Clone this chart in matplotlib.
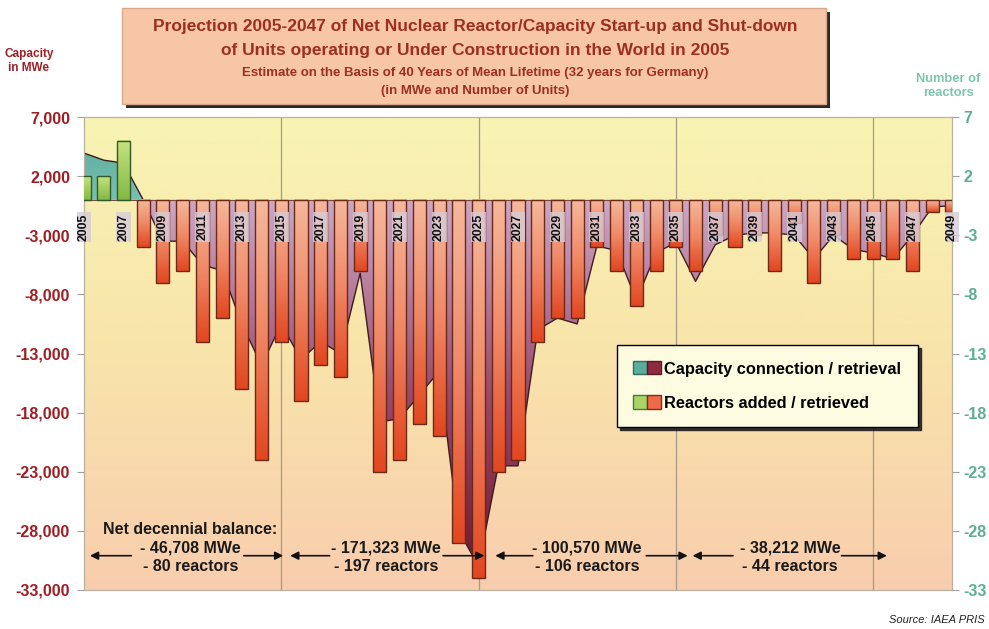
import numpy as np
import matplotlib
matplotlib.use('Agg')
import matplotlib.pyplot as plt
from matplotlib.colors import LinearSegmentedColormap
from matplotlib.patches import Rectangle, Patch
from matplotlib.path import Path
from matplotlib.legend_handler import HandlerTuple

plt.rcParams['font.family'] = ['Liberation Sans', 'DejaVu Sans']
plt.rcParams['axes.unicode_minus'] = False

# data (2005..2049)
years = np.arange(2005, 2050)
capacity_mwe = [3950, 3350, 3100, 0, -3500, -3500, -5500, -6000, -10500, -14000,
                -10500, -13500, -12000, -13000, -6200, -18800, -18500, -16500, -14500, -28000,
                -31000, -22500, -22500, -11000, -10000, -10500, -3900, -4300, -8500, -4500,
                -3600, -6900, -3800, -3000, -2800, -2800, -3000, -5000, -3000, -4200,
                -4500, -5000, -3000, -600, -500]
reactors = [2, 2, 5, -4, -7, -6, -12, -10, -16, -22,
            -12, -17, -14, -15, -6, -23, -22, -19, -20, -29,
            -32, -23, -22, -12, -10, -10, -4, -6, -9, -6,
            -4, -6, -3, -4, -3, -6, -2, -7, -3, -5,
            -5, -5, -6, -1, -1]
year_labels = years[::2]
left_ticks = np.arange(-33000, 7001, 5000)
right_ticks = np.arange(-33, 8, 5)
decade_lines = [2015, 2025, 2035, 2045]
decade_mwe = ['- 46,708 MWe', '- 171,323 MWe', '- 100,570 MWe', '- 38,212 MWe']
decade_units = ['- 80 reactors', '- 197 reactors', '- 106 reactors', '- 44 reactors']

# layout of the decade arrows (in years)
decade_centers = [2010.4, 2020.3, 2030.5, 2040.8]
arrow_spans = [(2005.3, 2007.4, 2013.1, 2015.1), (2015.45, 2017.45, 2023.2, 2025.3),
               (2025.85, 2027.75, 2033.5, 2035.6), (2035.85, 2037.9, 2043.4, 2045.7)]

W, H = 989, 629
fig = plt.figure(figsize=(W / 100, H / 100), dpi=100)
ax = fig.add_axes([84 / W, 1 - 590 / H, 868 / W, 473 / H])

ramp = np.linspace(0, 1, 256).reshape(-1, 1)


def gradient(axis, colors, extent, zorder, clip=None, transform=None):
    cmap = LinearSegmentedColormap.from_list('g', colors)
    img = axis.imshow(ramp, extent=extent, origin='lower', cmap=cmap,
                      aspect='auto', zorder=zorder, interpolation='bilinear')
    if clip is not None:
        if transform is None:
            img.set_clip_path(clip)
        else:
            img.set_clip_path(clip, transform)
        img.set_clip_box(axis.bbox)
    return img


# plot background
gradient(ax, ['#F9CDAE', '#F8E4AA', '#F8F4B4'], [2005, 2049, -33000, 7000], 0)
for gx in decade_lines:
    ax.axvline(gx, color='#A89A84', lw=0.9, zorder=1)

# capacity area
cap = np.array(capacity_mwe, dtype=float)
pos = ax.fill_between(years, cap, 0, where=cap >= 0, interpolate=True,
                      facecolor='none', edgecolor='none', zorder=2)
neg = ax.fill_between(years, cap, 0, where=cap <= 0, interpolate=True,
                      facecolor='none', edgecolor='none', zorder=2)
gradient(ax, ['#7ABFB0', '#52A896'], [2005, 2049, 0, 7000], 2,
         Path.make_compound_path(*pos.get_paths()), ax.transData)
gradient(ax, ['#6A1428', '#9A4A6C', '#CDA8C4'], [2005, 2049, -33000, 0], 2,
         Path.make_compound_path(*neg.get_paths()), ax.transData)
ax.plot(years, cap, color='#3E1A22', lw=1.0, zorder=3)

ax.set_xlim(2005, 2049)
ax.set_ylim(-33000, 7000)
ax.set_xticks([])
ax.set_yticks(left_ticks)
ax.set_yticklabels(['{:,}'.format(v) for v in left_ticks])
ax.tick_params(axis='y', labelcolor='#9E1F24', labelsize=11.5, length=5,
               color='#A0A0A0', pad=5)
for lab in ax.get_yticklabels():
    lab.set_fontweight('bold')
for s in ax.spines.values():
    s.set_color('#B8B0A0')

# reactor bars on the right axis
ax2 = ax.twinx()
bars = ax2.bar(years, reactors, width=0.66, facecolor='none', lw=1.0, zorder=4)
for b, v in zip(bars, reactors):
    x0, w = b.get_x(), b.get_width()
    if v >= 0:
        b.set_edgecolor('#2F5A2A')
        cols = ['#82B844', '#C8E27E']
    else:
        b.set_edgecolor('#6A2A1A')
        cols = ['#E2461F', '#F08866', '#F6B89C']
    gradient(ax2, cols, [x0, x0 + w, min(0, v), max(0, v)], 3.5, b)

ax2.axhline(0, color='#7A4A3A', lw=0.8, zorder=3.8)
ax2.set_xlim(2005, 2049)
ax2.set_ylim(-33, 7)
ax2.set_xticks([])
ax2.set_yticks(right_ticks)
ax2.tick_params(axis='y', labelcolor='#5DAE95', labelsize=11.5, length=5,
                color='#A0A0A0', pad=3)
for lab in ax2.get_yticklabels():
    lab.set_fontweight('bold')
for s in ax2.spines.values():
    s.set_color('#B8B0A0')

for yl in year_labels:
    ax2.text(yl, -2.3, str(yl), rotation=90, ha='center', va='center',
             fontsize=8.8, fontweight='bold', color='#111111', zorder=6,
             bbox=dict(boxstyle='square,pad=0.12', fc='#D6CCD8', ec='none', alpha=0.8))

# decennial balance notes
ax2.text(2010.4, -27.9, 'Net decennial balance:', ha='center', va='center',
         fontsize=11.5, fontweight='bold', color='#1A1A1A', zorder=7)
for cx, mwe, units, (a, b, c, d) in zip(decade_centers, decade_mwe, decade_units, arrow_spans):
    ax2.text(cx, -29.45, mwe, ha='center', va='center', fontsize=11.5,
             fontweight='bold', color='#1A1A1A', zorder=7)
    ax2.text(cx, -31.0, units, ha='center', va='center', fontsize=11.5,
             fontweight='bold', color='#1A1A1A', zorder=7)
    for tip, start in [(a, b), (d, c)]:
        ax2.annotate('', xy=(tip, -30.1), xytext=(start, -30.1), zorder=7,
                     arrowprops=dict(arrowstyle='-|>', color='#111111', lw=1.2,
                                     mutation_scale=12, shrinkA=0, shrinkB=0))

# legend
h1 = (Patch(fc='#5AAE9C', ec='#3A6A60'), Patch(fc='#8E2A3E', ec='#5A1A28'))
h2 = (Patch(fc='#A8D468', ec='#4A7A30'), Patch(fc='#EE6A48', ec='#7A3020'))
leg = ax2.legend([h1, h2], ['Capacity connection / retrieval', 'Reactors added / retrieved'],
                 handler_map={tuple: HandlerTuple(ndivide=None, pad=0)},
                 loc='upper left', bbox_to_anchor=(0.614, 0.518), borderaxespad=0,
                 fancybox=False, shadow={'color': '#222222', 'alpha': 0.9},
                 prop=dict(weight='bold', size=11.8), handlelength=1.7,
                 handleheight=0.85, handletextpad=0.2, borderpad=1.0, labelspacing=1.15)
leg.get_frame().set_facecolor('#FDFBE0')
leg.get_frame().set_edgecolor('black')
leg.get_frame().set_alpha(1)
leg.set_zorder(10)

# title box
fig.patches.append(Rectangle((126 / W, 1 - 108 / H), 704 / W, 96 / H,
                             transform=fig.transFigure, fc='#2A2A2A', ec='none'))
fig.patches.append(Rectangle((122 / W, 1 - 104 / H), 704 / W, 96 / H,
                             transform=fig.transFigure, fc='#F7C6A6', ec='#D9A88A', lw=1))
tc = '#9C2E26'
fig.text(475 / W, 1 - 27 / H, 'Projection 2005-2047 of Net Nuclear Reactor/Capacity Start-up and Shut-down',
         ha='center', va='center', fontsize=12.5, fontweight='bold', color=tc)
fig.text(475 / W, 1 - 50 / H, 'of Units operating or Under Construction in the World in 2005',
         ha='center', va='center', fontsize=12.5, fontweight='bold', color=tc)
fig.text(475 / W, 1 - 73 / H, 'Estimate on the Basis of 40 Years of Mean Lifetime (32 years for Germany)',
         ha='center', va='center', fontsize=9.5, fontweight='bold', color=tc)
fig.text(475 / W, 1 - 91 / H, '(in MWe and Number of Units)',
         ha='center', va='center', fontsize=9.5, fontweight='bold', color=tc)

fig.text(29 / W, 1 - 61 / H, 'Capacity\nin MWe', ha='center', va='center', fontsize=8.5,
         fontweight='bold', color='#9E1F24', linespacing=1.3)
fig.text(948 / W, 1 - 86 / H, 'Number of\nreactors', ha='center', va='center', fontsize=9.3,
         fontweight='bold', color='#7DC5AE', linespacing=1.3)
fig.text(985 / W, 1 - 620 / H, 'Source: IAEA PRIS', ha='right', va='center', fontsize=8,
         style='italic', color='#222222')

fig.savefig('out.png', dpi=100)
